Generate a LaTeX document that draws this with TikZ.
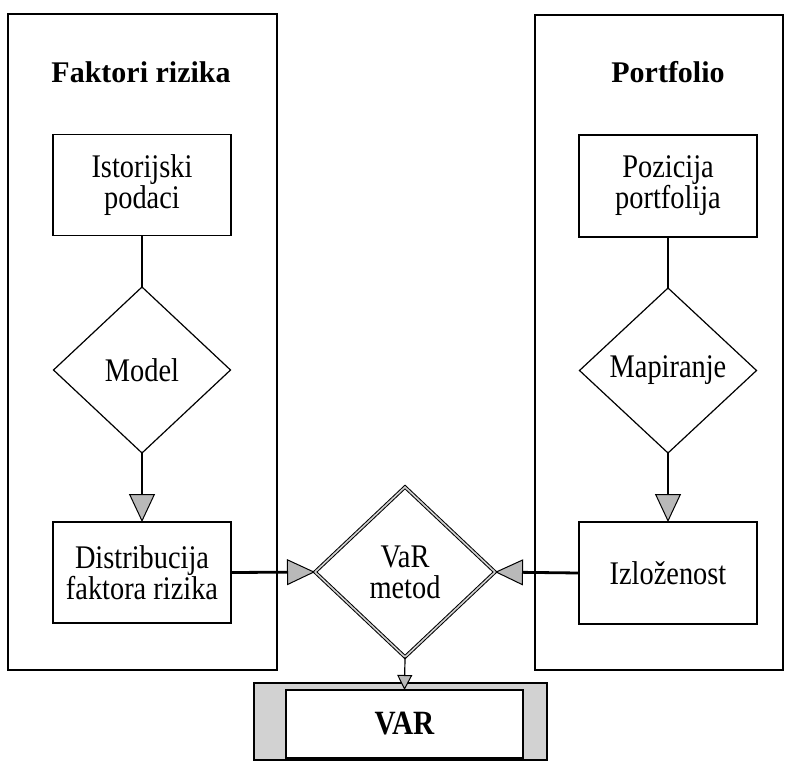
\documentclass[tikz,border=0pt]{standalone}
\usepackage{fontspec}
\setmainfont{Liberation Serif}
\newfontfamily\uzakfont[FakeStretch=0.86]{Liberation Serif}
\usetikzlibrary{shapes.geometric,arrows.meta}

\tikzset{
	frame/.style={draw,line width=1.8pt,inner sep=0pt,outer sep=0pt},
	title/.style={anchor=base,font=\fontsize{30}{32}\selectfont\bfseries},
	box/.style={draw,line width=1.5pt,minimum width=178pt,minimum height=101pt,inner sep=0pt,outer sep=0pt,align=center,font=\uzakfont\fontsize{33}{31}\selectfont},
	decision/.style={draw,diamond,line width=1.2pt,inner sep=0pt,outer sep=0pt,minimum width=177pt,minimum height=166pt,align=center,font=\uzakfont\fontsize{33}{31}\selectfont},
	link/.style={line width=2.8pt},
	flow/.style={line width=2.8pt,-{Triangle[length=28pt,width=26pt,line width=1pt,fill=gray!55]}},
}

\begin{document}
\begin{tikzpicture}[x=1pt,y=-1pt]
	\useasboundingbox (0,0) rectangle (794,760);

	% two groups
	\node[frame,minimum width=269pt,minimum height=656pt] (rizici) at (142.5,342) {};
	\node[frame,minimum width=248pt,minimum height=655pt] (portf) at (659,342.5) {};
	\node[title] (rizicinaslov) at (141,82) {Faktori rizika};
	\node[title] (portfnaslov) at (668,82) {Portfolio};

	% left column
	\node[box] (istorija) at (142,185) {Istorijski\\podaci};
	\node[decision] (model) at (142,370) {Model};
	\node[box] (distrib) at (142,572.5) {Distribucija\\faktora rizika};

	% right column
	\node[box,minimum height=102pt] (pozicija) at (668,186) {Pozicija\\portfolija};
	\node[decision,minimum height=165pt] (mapiranje) at (668,370.5) {Mapiranje};
	\node[box,minimum height=102pt] (izlozenost) at (668,573) {Izloženost};

	% middle
	\node[decision,line width=1pt,double=gray!35,double distance=1.6pt,minimum width=180pt,minimum height=170pt] (metod) at (405,572) {VaR\\metod};
	\node[frame,line width=1.2pt,fill=gray!35,minimum width=293pt,minimum height=77pt] (varokvir) at (400.5,721.5) {};
	\node[frame,line width=1.5pt,fill=white,minimum width=237pt,minimum height=68pt,font=\uzakfont\fontsize{34}{34}\selectfont\bfseries] (var) at (404.5,724) {VAR};

	\draw[link] (istorija) -- (model);
	\draw[flow] (model) -- (distrib);
	\draw[link] (pozicija) -- (mapiranje);
	\draw[flow] (mapiranje) -- (izlozenost);

	\draw[flow] (distrib.east) -- (metod.west);
	\draw[flow] (izlozenost.west) -- (metod.east);
	\draw[line width=1.2pt,-{Triangle[length=15pt,width=15pt,line width=1pt,fill=gray!55]}] (metod.south) -- (var.north);

	% \draw[help lines,step=20] (0,0) grid (794,760);
\end{tikzpicture}
\end{document}
